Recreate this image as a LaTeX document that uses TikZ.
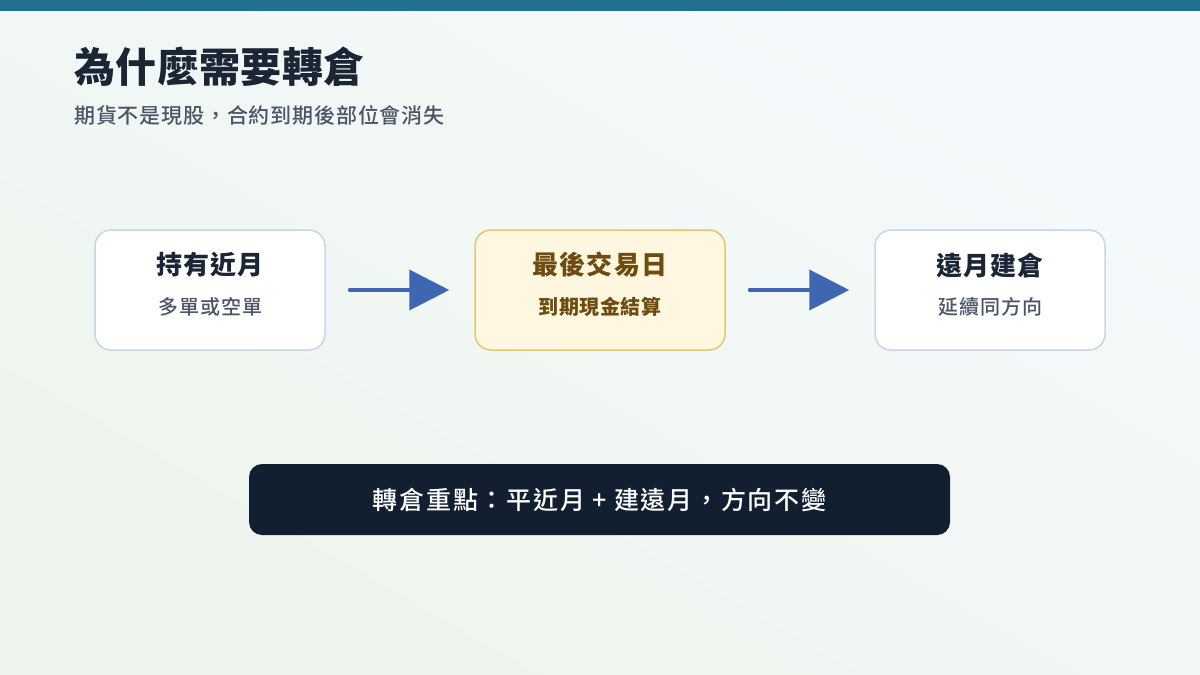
\documentclass[tikz,border=0pt]{standalone}
\usepackage{fontspec}
\setmainfont{Noto Sans CJK TC}[Script=CJK,Language=Chinese Traditional]
\newfontfamily\cjkmed{Noto Sans CJK TC Medium}[Script=CJK,Language=Chinese Traditional]
\usepackage{xcolor}
\definecolor{rlteal}{RGB}{34,112,143}
\definecolor{rlbgtop}{RGB}{245,249,252}
\definecolor{rlbgbot}{RGB}{237,245,236}
\definecolor{rlnavy}{RGB}{26,37,53}
\definecolor{rlgray}{RGB}{74,85,104}
\definecolor{rledge}{RGB}{200,214,229}
\definecolor{rlgoldfill}{RGB}{255,247,224}
\definecolor{rlgoldedge}{RGB}{228,198,112}
\definecolor{rlbrown}{RGB}{110,75,15}
\definecolor{rlblue}{RGB}{63,102,176}
\definecolor{rldark}{RGB}{17,31,48}
\usetikzlibrary{arrows.meta,positioning}
\tikzset{
  stagebox/.style={draw=rledge,line width=1.5pt,fill=white,rounded corners=16pt,
    minimum width=230pt,minimum height=120pt,inner sep=0pt},
  stagetitle/.style={font=\fontsize{26}{30}\selectfont\bfseries\addfontfeatures{LetterSpace=4},
    text=rlnavy,inner sep=0pt},
  stagenote/.style={font=\cjkmed\fontsize{20}{24}\selectfont\addfontfeatures{LetterSpace=5},
    text=rlgray,inner sep=0pt},
  flowarrow/.style={line width=4pt,rlblue,line cap=round,
    -{Triangle[length=40pt,width=40pt]},shorten <=24pt,shorten >=25pt}
}
\begin{document}
\begin{tikzpicture}[x=1pt,y=-1pt]
  \useasboundingbox (0,0) rectangle (1200,675);
  % background and top band
  \shade[left color=rlbgtop,right color=rlbgbot,shading angle=-30] (0,0) rectangle (1200,675);
  \fill[rlteal] (0,0) rectangle (1200,11);
  % heading
  \node[anchor=base west,inner sep=0pt,text=rlnavy,
    font=\fontsize{41}{48}\selectfont\bfseries\addfontfeatures{LetterSpace=1.5}] (title)
    at (74,82) {為什麼需要轉倉};
  \node[anchor=base west,inner sep=0pt,text=rlgray,
    font=\cjkmed\fontsize{21}{26}\selectfont\addfontfeatures{LetterSpace=4}] (subtitle)
    at (74,123) {期貨不是現股，合約到期後部位會消失};
  % near month
  \node[stagebox] (near) at (210,290) {};
  \node[stagetitle] (neart) at ([yshift=25pt]near.center) {持有近月};
  \node[stagenote] (nearn) at ([yshift=-17pt]near.center) {多單或空單};
  % last trading day
  \node[stagebox,draw=rlgoldedge,fill=rlgoldfill,minimum width=250pt] (last) at (600,290) {};
  \node[stagetitle,text=rlbrown] (lastt) at ([yshift=25pt]last.center) {最後交易日};
  \node[stagenote,text=rlbrown,font=\fontsize{20}{24}\selectfont\bfseries\addfontfeatures{LetterSpace=3}]
    (lastn) at ([yshift=-17pt]last.center) {到期現金結算};
  % far month
  \node[stagebox] (far) at (990,290) {};
  \node[stagetitle] (fart) at ([yshift=25pt]far.center) {遠月建倉};
  \node[stagenote] (farn) at ([yshift=-17pt]far.center) {延續同方向};
  % arrows
  \draw[flowarrow] (near) -- (last);
  \draw[flowarrow] (last) -- (far);
  % key point bar
  \node[fill=rldark,rounded corners=13pt,minimum width=701pt,minimum height=71pt,
    text=white,font=\cjkmed\fontsize{25}{30}\selectfont\addfontfeatures{LetterSpace=7}]
    (key) at (599.5,499.5) {轉倉重點：平近月 + 建遠月，方向不變};
\end{tikzpicture}
\end{document}
